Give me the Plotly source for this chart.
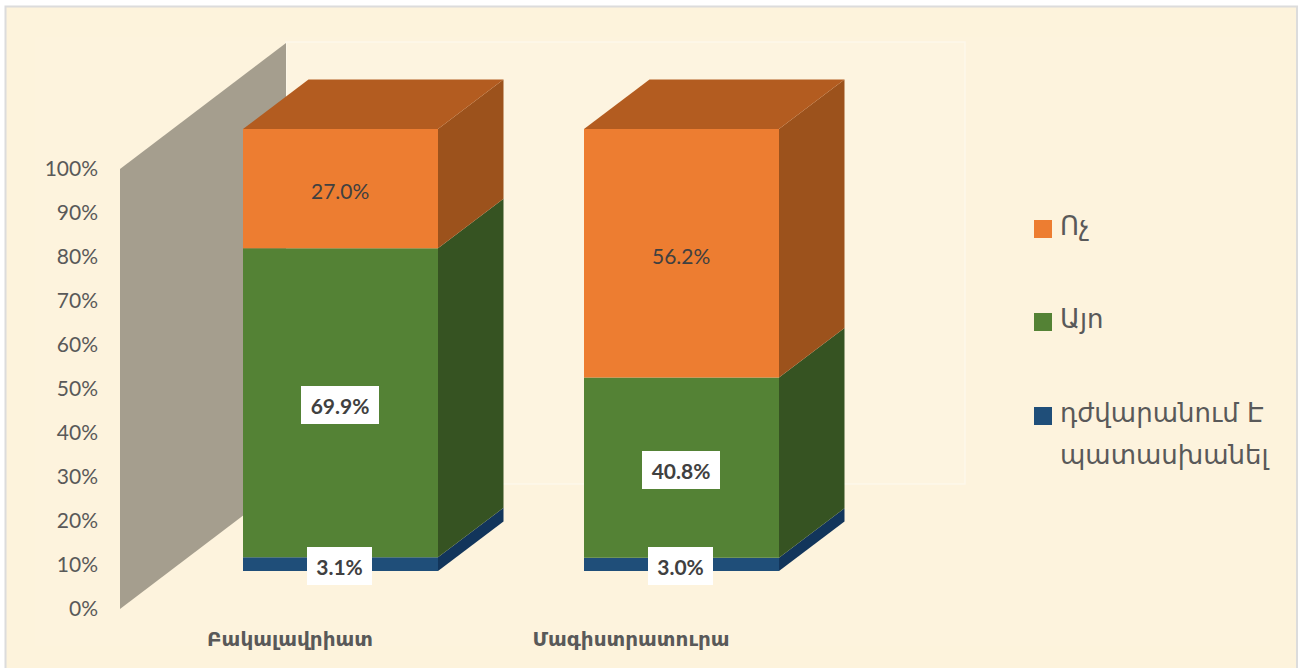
import plotly.graph_objects as go

categories = ["Բակալավրիատ", "Մագիստրատուրա"]
series_names = ["դժվարանում Է<br>պատասխանել", "Այո", "Ոչ"]
hard_to_answer = [3.1, 3.0]
yes = [69.9, 40.8]
no = [27.0, 56.2]
axis_ticks = [0, 10, 20, 30, 40, 50, 60, 70, 80, 90, 100]

FRONT = ["#1f4e79", "#548235", "#ed7d31"]
SIDE = ["#12355b", "#365322", "#9c521c"]
TOP = "#b35c20"
WALL = "#a59e8e"
TEXT = "#595959"
DARK = "#404040"
BG = "#fdf3dc"
FONT = "Lato, 'DejaVu Sans', sans-serif"
ARM = "'DejaVu Sans', sans-serif"

W, H = 1299, 668
L, R, T, B = 105, 1020, 20, 625  # plot area in page pixels
PX_X = 341.0  # pixels per category
PX_Y = 4.40   # pixels per % on the wall axis
PX_Y2 = 4.42  # pixels per % for the columns
X0, Y0, Y20 = 340.5, 609.0, 571.0

x_range = [(L - X0) / PX_X, (R - X0) / PX_X]
y_range = [(Y0 - B) / PX_Y, (Y0 - T) / PX_Y]
y2_range = [(Y20 - B) / PX_Y2, (Y20 - T) / PX_Y2]

bar_w = 195 / PX_X
dx = 65.5 / PX_X
dy = 49.5 / PX_Y2
wall_x = (120 - X0) / PX_X
wall_dx = 166 / PX_X
wall_dy = 126 / PX_Y


def px(x):
    return (x - L) / (R - L)


def py(y):
    return (B - y) / (B - T)


fig = go.Figure()

# side wall
fig.add_trace(go.Scatter(
    x=[wall_x, wall_x + wall_dx, wall_x + wall_dx, wall_x, wall_x],
    y=[axis_ticks[0], axis_ticks[0] + wall_dy, axis_ticks[-1] + wall_dy, axis_ticks[-1], axis_ticks[0]],
    mode="lines", fill="toself", fillcolor=WALL, line=dict(width=0),
    hoverinfo="skip", showlegend=False))

series = [hard_to_answer, yes, no]
idx = list(range(len(categories)))
bases = [0.0 for _ in idx]
annotations = []
for s, vals in enumerate(series):
    fig.add_trace(go.Bar(
        x=idx, y=vals, base=list(bases), width=bar_w, yaxis="y2",
        marker=dict(color=FRONT[s], line=dict(width=0)),
        name=series_names[s].replace("<br>", " "), showlegend=False))
    for i, v in enumerate(vals):
        b = bases[i]
        t = b + v
        xr = i + bar_w / 2
        fig.add_trace(go.Scatter(
            x=[xr, xr + dx, xr + dx, xr, xr], y=[b, b + dy, t + dy, t, b], yaxis="y2",
            mode="lines", fill="toself", fillcolor=SIDE[s], line=dict(width=0),
            hoverinfo="skip", showlegend=False))
        if s == len(series) - 1:
            xl = i - bar_w / 2
            fig.add_trace(go.Scatter(
                x=[xl, xr, xr + dx, xl + dx, xl], y=[t, t, t + dy, t + dy, t], yaxis="y2",
                mode="lines", fill="toself", fillcolor=TOP, line=dict(width=0),
                hoverinfo="skip", showlegend=False))
        label = f"{v:.1f}%"
        boxed = s < len(series) - 1
        annotations.append(dict(
            x=i, y=b + v / 2, xref="x", yref="y2", text=f"<b>{label}</b>" if boxed else label,
            showarrow=False, font=dict(family=FONT, size=21, color=DARK),
            bgcolor="white" if boxed else "rgba(0,0,0,0)", borderpad=0, borderwidth=0,
            width=(78 if len(label) > 4 else 65) if boxed else None,
            height=38 if boxed else None, xanchor="center", yanchor="middle",
            xshift=-1, yshift=-2))
        bases[i] = t

# legend
legend_y = [229, 322, 416]
legend_order = [2, 1, 0]
shapes = [
    dict(type="rect", xref="paper", yref="paper", x0=px(5.5), x1=px(1297), y0=py(6.5), y1=py(680),
         fillcolor=BG, line=dict(color="#dcdcdc", width=2), layer="below"),
    dict(type="rect", xref="paper", yref="paper", x0=px(35), x1=px(1270), y0=py(37), y1=py(646),
         fillcolor="#fdf3dd", line=dict(width=0), layer="below"),
    dict(type="rect", xref="paper", yref="paper", x0=px(286), x1=px(965), y0=py(42), y1=py(484),
         fillcolor="#fdf4e0", line=dict(color="#fdf7ea", width=1.5), layer="below"),
]
for yy, s in zip(legend_y, legend_order):
    shapes.append(dict(type="rect", xref="paper", yref="paper", x0=px(1034), x1=px(1052),
                       y0=py(yy - 9), y1=py(yy + 9), fillcolor=FRONT[s], line=dict(width=0)))
    annotations.append(dict(
        xref="paper", yref="paper", x=px(1058), y=py(yy - 20), xanchor="left", yanchor="top", align="left",
        text=f'<span style="font-size:26px">{series_names[s]}</span>',
        showarrow=False, font=dict(family=ARM, size=32, color=TEXT)))

fig.update_layout(
    width=W, height=H, autosize=False,
    margin=dict(l=L, r=W - R, t=T, b=H - B, pad=0),
    paper_bgcolor="white", plot_bgcolor="rgba(0,0,0,0)",
    barmode="overlay", showlegend=False,
    shapes=shapes, annotations=annotations,
    xaxis=dict(range=x_range, tickmode="array", tickvals=[i - 50.5 / PX_X for i in idx],
               ticktext=[f"<b>{c}</b>" for c in categories], showgrid=False, zeroline=False,
               showline=False, ticks="", tickfont=dict(family=ARM, size=20, color=TEXT)),
    yaxis=dict(range=y_range, tickmode="array", tickvals=axis_ticks,
               ticktext=[f"{v}%" for v in axis_ticks], showgrid=False, zeroline=False,
               showline=False, ticks="", ticklabelstandoff=6,
               tickfont=dict(family=FONT, size=21, color=TEXT)),
    yaxis2=dict(range=y2_range, overlaying="y", side="left", visible=False, showgrid=False, zeroline=False),
)

fig.write_html("out.html", config=dict(displayModeBar=False),
               post_script="document.body.style.margin='0';")
